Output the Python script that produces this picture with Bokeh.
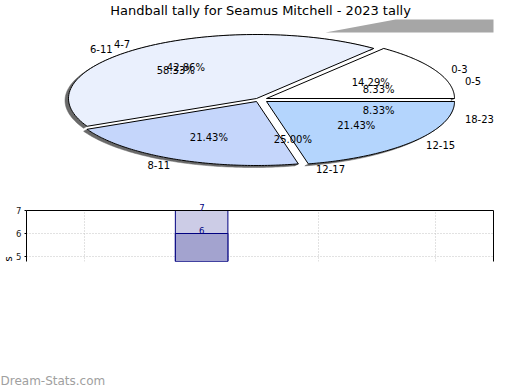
import numpy as np
from bokeh.plotting import figure
from bokeh.models import (Range1d, ColumnDataSource, Label, LabelSet,
                          FixedTicker, LinearAxis, Title)
from bokeh.layouts import column
from bokeh.embed import file_html
from bokeh.resources import INLINE
from bokeh.core.properties import value

# ---------------- data ----------------
TITLE = "Handball tally for Seamus Mitchell - 2023 tally"
WATERMARK = "Dream-Stats.com"

pie_labels = ["0-3", "4-7", "8-11", "12-15"]
pie_counts = [2, 6, 3, 3]
pie_colors = ["#ffffff", "#eaf0fd", "#c5d6fb", "#b4d5fd"]

pie2_labels = ["0-5", "6-11", "12-17", "18-23"]
pie2_counts = [1, 7, 3, 1]

bar_x = [2]
bar_back = [7]
bar_front = [6]
y_ticks = [5, 6, 7]
x_grid = [1, 2, 3, 4]
y_axis_tail = "s"

# ---------------- layout constants (image pixels) ----------------
FONT = "DejaVu Sans"
W, H = 520, 390
SPLIT1 = 196          # end of pie area
SPLIT2 = 268          # end of bar-chart area
F_L, F_R, F_T, F_B = 25, 493, 210, 261   # bar chart frame

CX, CY, RX, RY = 261.0, 99.5, 188.0, 64.0
EX, EY = 5.0, 1.5
SHX, SHY = -3.5, 2.0
PCT_R, OUT_R = 0.645, 1.12


def fracs(counts):
    c = np.asarray(counts, float)
    return c / c.sum()


def angles(counts):
    e = np.concatenate([[0.0], np.cumsum(fracs(counts))]) * 2 * np.pi
    return e[:-1], e[1:]


# ---------------- top: pie ----------------
top = figure(width=W, height=SPLIT1, x_range=Range1d(0, W), y_range=Range1d(SPLIT1, 0),
             x_axis_type=None, y_axis_type=None, toolbar_location=None,
             output_backend="svg", min_border=0, frame_align=False)
top.outline_line_color = None
top.background_fill_color = "white"
top.border_fill_color = "white"

# decorative grey band at top right
top.patch([325, 395, 493, 493], [32, 19, 19, 32], fill_color="#a6a6a6", line_color=None)

a0s, a1s = angles(pie_counts)
xs, ys, sxs, sys_ = [], [], [], []
for a0, a1 in zip(a0s, a1s):
    mid = (a0 + a1) / 2
    cx = CX + EX * np.sign(np.cos(mid))
    cy = CY - EY * np.sign(np.sin(mid))
    t = np.linspace(a0, a1, 90)
    ax = cx + RX * np.cos(t)
    ay = cy - RY * np.sin(t)
    xs.append([cx] + list(ax)); ys.append([cy] + list(ay))
    # shadow band along the rim only
    sxs.append(list(ax + SHX) + list(ax[::-1]))
    sys_.append(list(ay + SHY) + list(ay[::-1]))
top.patches(sxs, sys_, fill_color="#6a6a6a", line_color="#6a6a6a", line_width=0.5)
top.patches(xs, ys, fill_color=pie_colors, line_color="black", line_width=1)


def draw_labels(labels, counts):
    a0, a1 = angles(counts)
    mid = (a0 + a1) / 2
    pct = [f"{v * 100:.2f}%" for v in fracs(counts)]
    top.text(CX + RX * PCT_R * np.cos(mid), CY - RY * PCT_R * np.sin(mid), text=pct,
             text_align="center", text_baseline="middle", text_font=value(FONT),
             text_font_size="10px", text_color="black")
    ox = CX + RX * OUT_R * np.cos(mid)
    oy = CY - RY * OUT_R * np.sin(mid)
    right = np.cos(mid) >= 0
    lab = np.array(labels)
    top.text(ox[right], oy[right], text=list(lab[right]), text_align="left",
             text_baseline="middle", text_font=value(FONT), text_font_size="10px",
             text_color="black")
    top.text(ox[~right], oy[~right], text=list(lab[~right]), text_align="right",
             text_baseline="middle", text_font=value(FONT), text_font_size="10px",
             text_color="black")


draw_labels(pie_labels, pie_counts)
draw_labels(pie2_labels, pie2_counts)

top.add_layout(Label(x=W / 2, y=10, text=TITLE, text_align="center",
                     text_baseline="middle", text_font=FONT, text_font_size="13px",
                     text_color="black"))

# ---------------- middle: bar chart ----------------
PX_PER_UNIT = 23.0
YT = 7.0
YB = YT - (F_B - F_T) / PX_PER_UNIT

mid_fig = figure(width=W, height=SPLIT2 - SPLIT1, x_range=Range1d(0.5, 4.5),
                 y_range=Range1d(YB, YT), toolbar_location=None, output_backend="svg",
                 x_axis_location="above", frame_align=False,
                 min_border_left=F_L, min_border_right=W - F_R,
                 min_border_top=F_T - SPLIT1, min_border_bottom=SPLIT2 - F_B)
mid_fig.outline_line_color = None
mid_fig.background_fill_color = "white"
mid_fig.border_fill_color = "white"

xa = mid_fig.xaxis[0]
xa.ticker = FixedTicker(ticks=[])
xa.major_tick_out = 0
xa.major_tick_in = 0
xa.minor_tick_out = 0
xa.minor_tick_in = 0
xa.major_label_standoff = 0
xa.axis_line_color = "black"

ya = mid_fig.yaxis[0]
ya.ticker = FixedTicker(ticks=y_ticks)
ya.major_tick_out = 2
ya.major_tick_in = 0
ya.minor_tick_out = 0
ya.minor_tick_in = 0
ya.major_label_standoff = 3
ya.major_label_text_font = FONT
ya.major_label_text_font_size = "8.5px"
ya.major_label_text_color = "#222222"
ya.axis_line_color = "black"

mid_fig.add_layout(LinearAxis(ticker=FixedTicker(ticks=[]), major_tick_out=0, major_tick_in=0,
                              minor_tick_out=0, minor_tick_in=0, major_label_standoff=0,
                              axis_line_color="black"), "right")

mid_fig.xgrid.ticker = FixedTicker(ticks=x_grid)
mid_fig.ygrid.ticker = FixedTicker(ticks=y_ticks)
mid_fig.grid.grid_line_color = "#c4c4c4"
mid_fig.grid.grid_line_dash = "1 2"

mid_fig.vbar(x=bar_x, width=0.45, top=bar_back, bottom=0, fill_color="#ccccE6",
             line_color="#000080", line_width=1)
mid_fig.vbar(x=bar_x, width=0.45, top=bar_front, bottom=0, fill_color="#a3a3cf",
             line_color="#000080", line_width=1)

vsrc = ColumnDataSource(dict(x=bar_x, y=bar_front, t=[str(v) for v in bar_front]))
mid_fig.add_layout(LabelSet(x="x", y="y", text="t", source=vsrc, text_align="center",
                            text_baseline="bottom", y_offset=0, text_font=value(FONT),
                            text_font_size="8.5px", text_color="#000080"))

# value label of the taller bar sits above the frame: use a title slot
frame_w = F_R - F_L
top_off = (bar_x[0] - 0.5) / 4.0 * frame_w - 2.7
mid_fig.add_layout(Title(text=str(bar_back[0]), align="left", offset=top_off,
                         standoff=0, text_font=FONT, text_font_size="8.5px",
                         text_font_style="normal", text_color="#000080"), "above")
# visible tail of the y axis title
mid_fig.add_layout(Title(text=y_axis_tail, align="left", offset=0, standoff=0,
                         text_font=FONT, text_font_size="10px", text_font_style="normal",
                         text_color="black"), "left")

# ---------------- bottom: blank area with watermark ----------------
bot = figure(width=W, height=H - SPLIT2, x_range=Range1d(0, W), y_range=Range1d(H, SPLIT2),
             x_axis_type=None, y_axis_type=None, toolbar_location=None,
             output_backend="svg", min_border=0, frame_align=False)
bot.outline_line_color = None
bot.background_fill_color = "white"
bot.border_fill_color = "white"
bot.add_layout(Label(x=0, y=380, text=WATERMARK, text_align="left",
                     text_baseline="middle", text_font=FONT, text_font_size="12px",
                     text_color="#a0a0a0"))

layout = column(top, mid_fig, bot, spacing=0)
open("out.html", "w").write(file_html(layout, INLINE))
